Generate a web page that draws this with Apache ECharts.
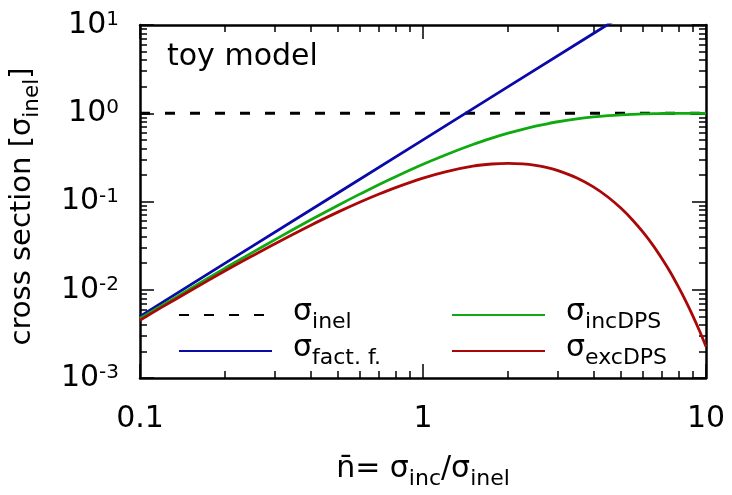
<!DOCTYPE html>
<html>
<head>
<meta charset="utf-8">
<script src="https://cdn.jsdelivr.net/npm/echarts@6/dist/echarts.min.js"></script>
<style>
html, body { margin: 0; padding: 0; background: #fff; }
#chart { width: 732px; height: 495px; }
</style>
</head>
<body>
<div id="chart"></div>
<script>
// n-bar sample points
var nbar = [0.1, 0.12, 0.15, 0.2, 0.25, 0.3, 0.4, 0.5, 0.6, 0.7, 0.8, 1, 1.2, 1.5, 1.75, 2, 2.25, 2.5, 2.75, 3,
            3.5, 4, 4.5, 5, 5.5, 6, 6.5, 7, 7.5, 8, 8.5, 9, 9.5, 10];
// sigma_incDPS (green)
var incDPS = [0.00472, 0.00667, 0.0102, 0.0176, 0.0265, 0.037, 0.0616, 0.0902, 0.122, 0.156, 0.191, 0.264, 0.337, 0.442,
              0.522, 0.594, 0.657, 0.713, 0.760, 0.801, 0.864, 0.908, 0.939, 0.960, 0.973, 0.983, 0.989, 0.993, 0.995,
              0.997, 0.998, 0.9988, 0.9992, 0.9995];
// sigma_excDPS (red)
var excDPS = [0.00452, 0.00639, 0.00968, 0.0164, 0.0243, 0.0333, 0.0536, 0.0758, 0.0988, 0.1217, 0.1438, 0.184, 0.217,
              0.251, 0.266, 0.271, 0.267, 0.2565, 0.242, 0.224, 0.185, 0.1465, 0.1125, 0.0842, 0.0618, 0.0446, 0.0318,
              0.0223, 0.0156, 0.0107, 0.00735, 0.0050, 0.00338, 0.00227];
// sigma_fact.f. (blue), leaves the frame near n = 4.5
var factX = [0.1, 0.2, 0.5, 1, 2, 4, 5];
var factVal = [0.005, 0.02, 0.125, 0.5, 2, 8, 12.5];
// sigma_inel (dashed)
var inelX = [0.1, 10];
var inelVal = [1, 1];

var xMin = 0.1, xMax = 10;
var yMin = 0.001, yMax = 10;
var minorSteps = [2, 3, 4, 5, 6, 7, 8, 9];
var xDecades = [0.1, 1];
var yDecades = [0.001, 0.01, 0.1, 1];

function minorTicks(decades) {
    var out = [];
    decades.forEach(function (d) {
        minorSteps.forEach(function (m) { out.push(+(d * m).toPrecision(3)); });
    });
    return out;
}
function pairs(xs, ys) {
    return xs.map(function (x, i) { return [x, ys[i]]; });
}

var FONT = 'DejaVu Sans';
var LW = 2.8;
var richText = {
    m: { fontFamily: FONT, fontSize: 30, lineHeight: 36, verticalAlign: 'top', color: '#000' },
    s: { fontFamily: FONT, fontSize: 22, lineHeight: 15, verticalAlign: 'bottom', color: '#000' },
    gap: { width: 16 }
};
var titleRich = {
    m: { fontFamily: FONT, fontSize: 29, lineHeight: 35, verticalAlign: 'top', color: '#000' },
    s: { fontFamily: FONT, fontSize: 21.5, lineHeight: 14, verticalAlign: 'bottom', color: '#000' }
};
var legendNames = {
    inel: '{gap|}{m|σ}{s|inel}',
    fact: '{gap|}{m|σ}{s|fact. f.}',
    inc: '{gap|}{m|σ}{s|incDPS}',
    exc: '{gap|}{m|σ}{s|excDPS}'
};

function legendAt(name, left, top) {
    return {
        data: [name],
        left: left,
        top: top,
        padding: 0,
        orient: 'vertical',
        itemWidth: 93,
        itemHeight: 14,
        selectedMode: false,
        itemStyle: { opacity: 0 },
        formatter: function (n) { return legendNames[n]; },
        textStyle: { rich: richText }
    };
}

function majorAxis(pos, min, max, extra) {
    var a = {
        type: 'log', position: pos, min: min, max: max, logBase: 10,
        axisLine: { show: true, onZero: false, lineStyle: { color: '#000', width: 2.5 } },
        axisTick: { show: true, inside: true, length: 14, lineStyle: { color: '#000', width: 1.5 } },
        axisLabel: { show: false },
        splitLine: { show: false }
    };
    for (var k in extra) a[k] = extra[k];
    return a;
}
function minorAxis(pos, min, max, ticks) {
    return {
        type: 'log', position: pos, min: min, max: max, logBase: 10,
        axisLine: { show: false, onZero: false },
        axisTick: { show: true, inside: true, length: 7, customValues: ticks, lineStyle: { color: '#000', width: 1.5 } },
        axisLabel: { show: false },
        splitLine: { show: false }
    };
}

var chart = echarts.init(document.getElementById('chart'));

var option = {
    animation: false,
    backgroundColor: '#fff',
    title: {
        text: 'toy model',
        left: 162,
        top: 37,
        textStyle: { fontFamily: FONT, fontSize: 30, fontWeight: 'normal', color: '#000' }
    },
    legend: [
        legendAt('inel', 178, 297),
        legendAt('fact', 178, 333),
        legendAt('inc', 451, 297),
        legendAt('exc', 451, 333)
    ],
    grid: { left: 138, right: 26, top: 25, bottom: 113, containLabel: false },
    xAxis: [
        majorAxis('bottom', xMin, xMax, {
            axisLabel: { show: true, margin: 26, fontFamily: FONT, fontSize: 30, color: '#000' },
            name: '{m|n̄= σ}{s|inc}{m|/σ}{s|inel}',
            nameLocation: 'middle',
            nameGap: 76,
            nameTextStyle: { rich: richText }
        }),
        minorAxis('bottom', xMin, xMax, minorTicks(xDecades)),
        majorAxis('top', xMin, xMax, {}),
        minorAxis('top', xMin, xMax, minorTicks(xDecades))
    ],
    yAxis: [
        majorAxis('left', yMin, yMax, {
            axisLabel: {
                show: true,
                margin: 21,
                formatter: function (v) {
                    return '{b|10}{e|' + Math.round(Math.log10(v)) + '}';
                },
                rich: {
                    b: { fontFamily: FONT, fontSize: 30, lineHeight: 30, verticalAlign: 'bottom', color: '#000' },
                    e: { fontFamily: FONT, fontSize: 20, lineHeight: 15, verticalAlign: 'top', color: '#000' }
                }
            },
            name: '{m|cross section [σ}{s|inel}{m|]}',
            nameLocation: 'middle',
            nameGap: 97,
            nameRotate: 90,
            nameTextStyle: { rich: titleRich, padding: [0, 10, 0, 0] }
        }),
        minorAxis('left', yMin, yMax, minorTicks(yDecades)),
        majorAxis('right', yMin, yMax, {}),
        minorAxis('right', yMin, yMax, minorTicks(yDecades))
    ],
    series: [
        {
            name: 'inel', type: 'line', symbol: 'none', data: pairs(inelX, inelVal),
            lineStyle: { color: '#000', width: LW, type: [10, 15] }, itemStyle: { color: '#000' }
        },
        {
            name: 'fact', type: 'line', symbol: 'none', data: pairs(factX, factVal),
            lineStyle: { color: '#0a0aa8', width: LW }, itemStyle: { color: '#0a0aa8' }
        },
        {
            name: 'inc', type: 'line', symbol: 'none', smooth: 0.3, data: pairs(nbar, incDPS),
            lineStyle: { color: '#10aa10', width: LW }, itemStyle: { color: '#10aa10' }
        },
        {
            name: 'exc', type: 'line', symbol: 'none', smooth: 0.3, data: pairs(nbar, excDPS),
            lineStyle: { color: '#aa0808', width: LW }, itemStyle: { color: '#aa0808' }
        }
    ]
};

chart.setOption(option);
</script>
</body>
</html>
